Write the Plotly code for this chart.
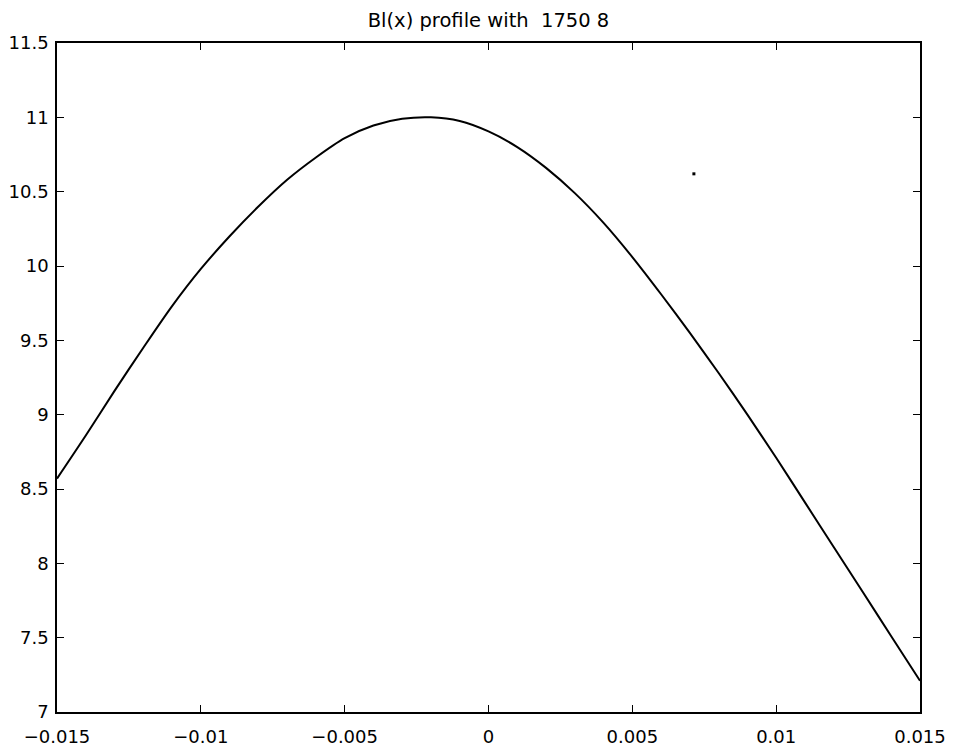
import plotly.graph_objects as go

# Bl(x) profile readings (x in m, Bl in T*m)
x_vals = [-0.015, -0.014, -0.013, -0.012, -0.011, -0.010, -0.009, -0.008, -0.007,
          -0.006, -0.005, -0.004, -0.003, -0.002, -0.001, 0.000, 0.001, 0.002,
          0.003, 0.004, 0.005, 0.006, 0.007, 0.008, 0.009, 0.010, 0.011, 0.012,
          0.013, 0.014, 0.015]
bl_vals = [8.57, 8.86, 9.16, 9.45, 9.73, 9.98, 10.20, 10.40, 10.58,
           10.73, 10.86, 10.945, 10.99, 11.00, 10.975, 10.905, 10.80, 10.66,
           10.49, 10.29, 10.06, 9.81, 9.55, 9.28, 9.00, 8.71, 8.41, 8.11,
           7.81, 7.51, 7.21]

# small speck visible in the plot
speck_x = [0.00714]
speck_y = [10.62]

x_ticks = [-0.015, -0.01, -0.005, 0, 0.005, 0.01, 0.015]
x_tick_text = ["\u22120.015", "\u22120.01", "\u22120.005", "0", "0.005", "0.01", "0.015"]
y_ticks = [7, 7.5, 8, 8.5, 9, 9.5, 10, 10.5, 11, 11.5]
y_tick_text = ["7", "7.5", "8", "8.5", "9", "9.5", "10", "10.5", "11", "11.5"]

title_text = "Bl(x) profile with  1750 8"

fig = go.Figure()
fig.add_trace(go.Scatter(x=x_vals, y=bl_vals, mode="lines",
                         line=dict(color="black", width=2, shape="spline", smoothing=0.8),
                         showlegend=False, hoverinfo="skip"))
fig.add_trace(go.Scatter(x=speck_x, y=speck_y, mode="markers",
                         marker=dict(color="black", size=3, symbol="square"),
                         showlegend=False, hoverinfo="skip"))

font_family = "DejaVu Sans, Liberation Sans, Arial, sans-serif"

fig.update_layout(
    width=956, height=751,
    margin=dict(l=57, r=36, t=43, b=39, pad=0),
    paper_bgcolor="white", plot_bgcolor="white",
    font=dict(family=font_family, size=18, color="black"),
    title=dict(text=title_text, x=(57 + 920) / 2 / 956, xanchor="center",
               y=1 - 20 / 751, yanchor="middle",
               font=dict(family=font_family, size=19.5, color="black")),
    xaxis=dict(range=[-0.015, 0.015], tickvals=x_ticks, ticktext=x_tick_text,
               showgrid=False, zeroline=False, showline=True, linecolor="black",
               linewidth=1.5, mirror="ticks", ticks="inside", ticklen=7,
               tickwidth=1, tickcolor="black", tickfont=dict(size=18),
               ticklabelstandoff=8, automargin=False),
    yaxis=dict(range=[7, 11.5], tickvals=y_ticks, ticktext=y_tick_text,
               showgrid=False, zeroline=False, showline=True, linecolor="black",
               linewidth=1.5, mirror="ticks", ticks="inside", ticklen=7,
               tickwidth=1, tickcolor="black", tickfont=dict(size=18),
               ticklabelstandoff=3, automargin=False),
)

fig.write_html("out.html")
